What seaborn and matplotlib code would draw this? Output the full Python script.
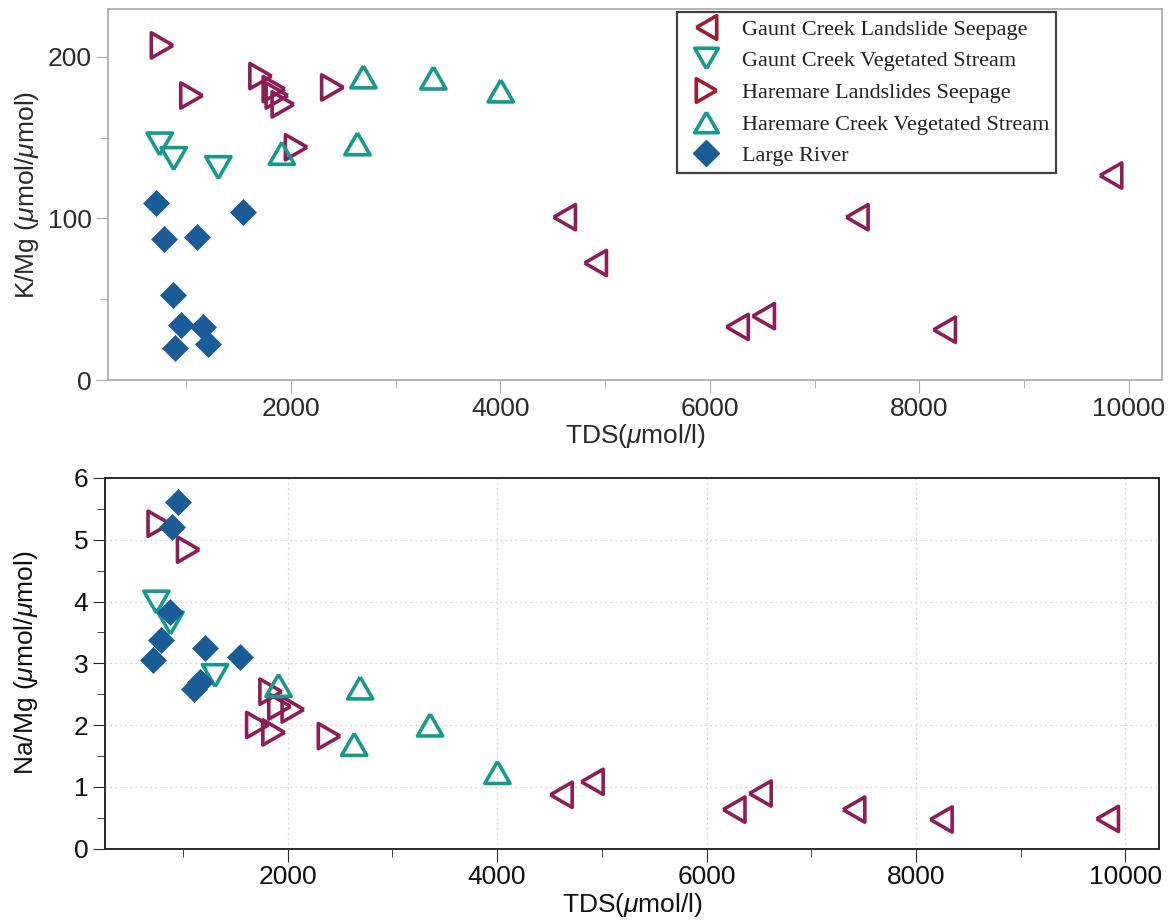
import numpy as np
import pandas as pd
import matplotlib
matplotlib.use("Agg")
import matplotlib.pyplot as plt
from matplotlib.lines import Line2D
from matplotlib.ticker import MultipleLocator
import seaborn as sns

sns.set_style("white")
plt.rcParams['font.family'] = ['Liberation Sans', 'DejaVu Sans']
plt.rcParams['mathtext.fontset'] = 'custom'
plt.rcParams['mathtext.it'] = 'Liberation Sans:italic'
plt.rcParams['mathtext.rm'] = 'Liberation Sans'

# ---------------- data ----------------
series_names = ["Gaunt Creek Landslide Seepage", "Gaunt Creek Vegetated Stream",
                "Haremare Landslides Seepage", "Haremare Creek Vegetated Stream",
                "Large River"]

gc_seep_tds = [4613, 4909, 6263, 6513, 7407, 8241, 9829]
gc_seep_kmg = [100.7, 72.4, 32.8, 39.5, 100.7, 31.1, 126.5]
gc_seep_namg = [0.87, 1.08, 0.63, 0.89, 0.63, 0.47, 0.48]

gc_veg_tds = [748, 882, 1308]
gc_veg_kmg = [146, 137, 131.4]
gc_veg_namg = [3.99, 3.65, 2.80]

hm_seep_tds = [772, 1053, 1713, 1840, 1868, 1925, 2052, 2398]
hm_seep_kmg = [207, 176, 188, 180, 176, 170.5, 144, 181]
hm_seep_namg = [5.26, 4.84, 2.00, 2.54, 1.88, 2.30, 2.25, 1.82]

hm_veg_tds = [1914, 2636, 2693, 3361, 4004]
hm_veg_kmg = [140.2, 146.1, 187.5, 186.8, 178.8]
hm_veg_namg = [2.64, 1.685, 2.60, 2.00, 1.23]

river_tds = [711, 792, 1104, 1546, 878, 955, 1165, 895, 1208]
river_kmg = [109.3, 87.2, 88.3, 103.7, 52.8, 33.8, 33.0, 19.6, 22.3]
river_namg = [3.05, 3.37, 2.59, 3.10, 3.83, 5.615, 2.70, 5.20, 3.25]

frames = []
for name, t, k, n in zip(series_names,
                         [gc_seep_tds, gc_veg_tds, hm_seep_tds, hm_veg_tds, river_tds],
                         [gc_seep_kmg, gc_veg_kmg, hm_seep_kmg, hm_veg_kmg, river_kmg],
                         [gc_seep_namg, gc_veg_namg, hm_seep_namg, hm_veg_namg, river_namg]):
    frames.append(pd.DataFrame({"series": name, "TDS": t, "KMg": k, "NaMg": n}))
df = pd.concat(frames, ignore_index=True)

# ---------------- styles ----------------
h = 0.866
tri_left = [(-h, 0), (h, 1), (h, -1), (-h, 0)]
tri_right = [(h, 0), (-h, 1), (-h, -1), (h, 0)]
tri_up = [(0, h), (-1, -h), (1, -h), (0, h)]
tri_down = [(0, -h), (-1, h), (1, h), (0, -h)]

maroon = "#8e1c56"
teal = "#16998f"
blue = "#1a5c98"
legend_red = "#a01b2e"
styles = {
    "Gaunt Creek Landslide Seepage": dict(marker=tri_left, color=maroon, open=True),
    "Gaunt Creek Vegetated Stream": dict(marker=tri_down, color=teal, open=True),
    "Haremare Landslides Seepage": dict(marker=tri_right, color=maroon, open=True),
    "Haremare Creek Vegetated Stream": dict(marker=tri_up, color=teal, open=True),
    "Large River": dict(marker="D", color=blue, open=False),
}

fig = plt.figure(figsize=(11.72, 9.21), dpi=100)
ax1 = fig.add_axes([0.0924, 0.5874, 0.8993, 0.4028])
ax2 = fig.add_axes([0.0896, 0.0787, 0.8993, 0.4023])

def draw(ax, ycol):
    for name in series_names:
        st = styles[name]
        sub = df[df["series"] == name]
        if st["open"]:
            sns.scatterplot(data=sub, x="TDS", y=ycol, ax=ax, marker=st["marker"],
                            s=330, facecolors="none", edgecolor=st["color"],
                            linewidth=2.6, zorder=3)
        else:
            sns.scatterplot(data=sub, x="TDS", y=ycol, ax=ax, marker="D",
                            s=175, color=st["color"], edgecolor=st["color"],
                            linewidth=0.5, zorder=3)

draw(ax1, "KMg")
draw(ax2, "NaMg")

for ax in (ax1, ax2):
    ax.set_xlim(257, 10320)
    ax.xaxis.set_major_locator(MultipleLocator(2000))
    ax.xaxis.set_minor_locator(MultipleLocator(1000))
    ax.tick_params(axis="both", which="major", direction="out", length=9, labelsize=19, pad=3)
    ax.tick_params(axis="both", which="minor", direction="out", length=6)
    ax.tick_params(bottom=True, left=True, which="both")

# top panel styling
ax1.set_ylim(0, 229.5)
ax1.yaxis.set_major_locator(MultipleLocator(100))
ax1.yaxis.set_minor_locator(MultipleLocator(50))
for sp in ax1.spines.values():
    sp.set_color("#a8a8a8")
    sp.set_linewidth(1.2)
ax1.tick_params(which="both", colors="#a8a8a8", labelcolor="#2a2a2a")
ax1.set_xlabel(r"TDS($\mu$mol/l)", fontsize=19, color="#2a2a2a", labelpad=1)
ax1.set_ylabel(r"K/Mg ($\mu$mol/$\mu$mol)", fontsize=19, color="#2a2a2a", labelpad=5)
ax1.grid(False)

# bottom panel styling
ax2.set_ylim(0, 6)
ax2.yaxis.set_major_locator(MultipleLocator(1))
ax2.yaxis.set_minor_locator(MultipleLocator(0.5))
for sp in ax2.spines.values():
    sp.set_color("#2a2a2a")
    sp.set_linewidth(1.4)
ax2.tick_params(which="both", colors="#2a2a2a", labelcolor="#111111")
ax2.grid(True, which="major", linestyle=(0, (1, 3)), color="#c4c4c4", linewidth=0.9)
ax2.set_axisbelow(True)
ax2.set_xlabel(r"TDS($\mu$mol/l)", fontsize=19, color="#111111", labelpad=1)
ax2.set_ylabel(r"Na/Mg ($\mu$mol/$\mu$mol)", fontsize=19, color="#111111", labelpad=24)

# legend
handles = []
leg_colors = [legend_red, teal, legend_red, teal, blue]
for name, lc in zip(series_names, leg_colors):
    st = styles[name]
    if st["open"]:
        hd = Line2D([], [], linestyle="none", marker=st["marker"], markersize=17,
                    markerfacecolor="none", markeredgecolor=lc, markeredgewidth=2.6)
    else:
        hd = Line2D([], [], linestyle="none", marker="D", markersize=13,
                    markerfacecolor=lc, markeredgecolor=lc)
    handles.append(hd)
leg = ax1.legend(handles, series_names, loc="upper left", bbox_to_anchor=(0.540, 0.991),
                 borderaxespad=0, frameon=True, fancybox=False, edgecolor="#111111",
                 prop={"family": "Liberation Serif", "size": 16}, labelspacing=0.5,
                 handlelength=2.0, handletextpad=0.6, borderpad=0.3)
leg.get_frame().set_linewidth(1.6)
for t in leg.get_texts():
    t.set_color("#222222")

fig.savefig("out.png", dpi=100)
